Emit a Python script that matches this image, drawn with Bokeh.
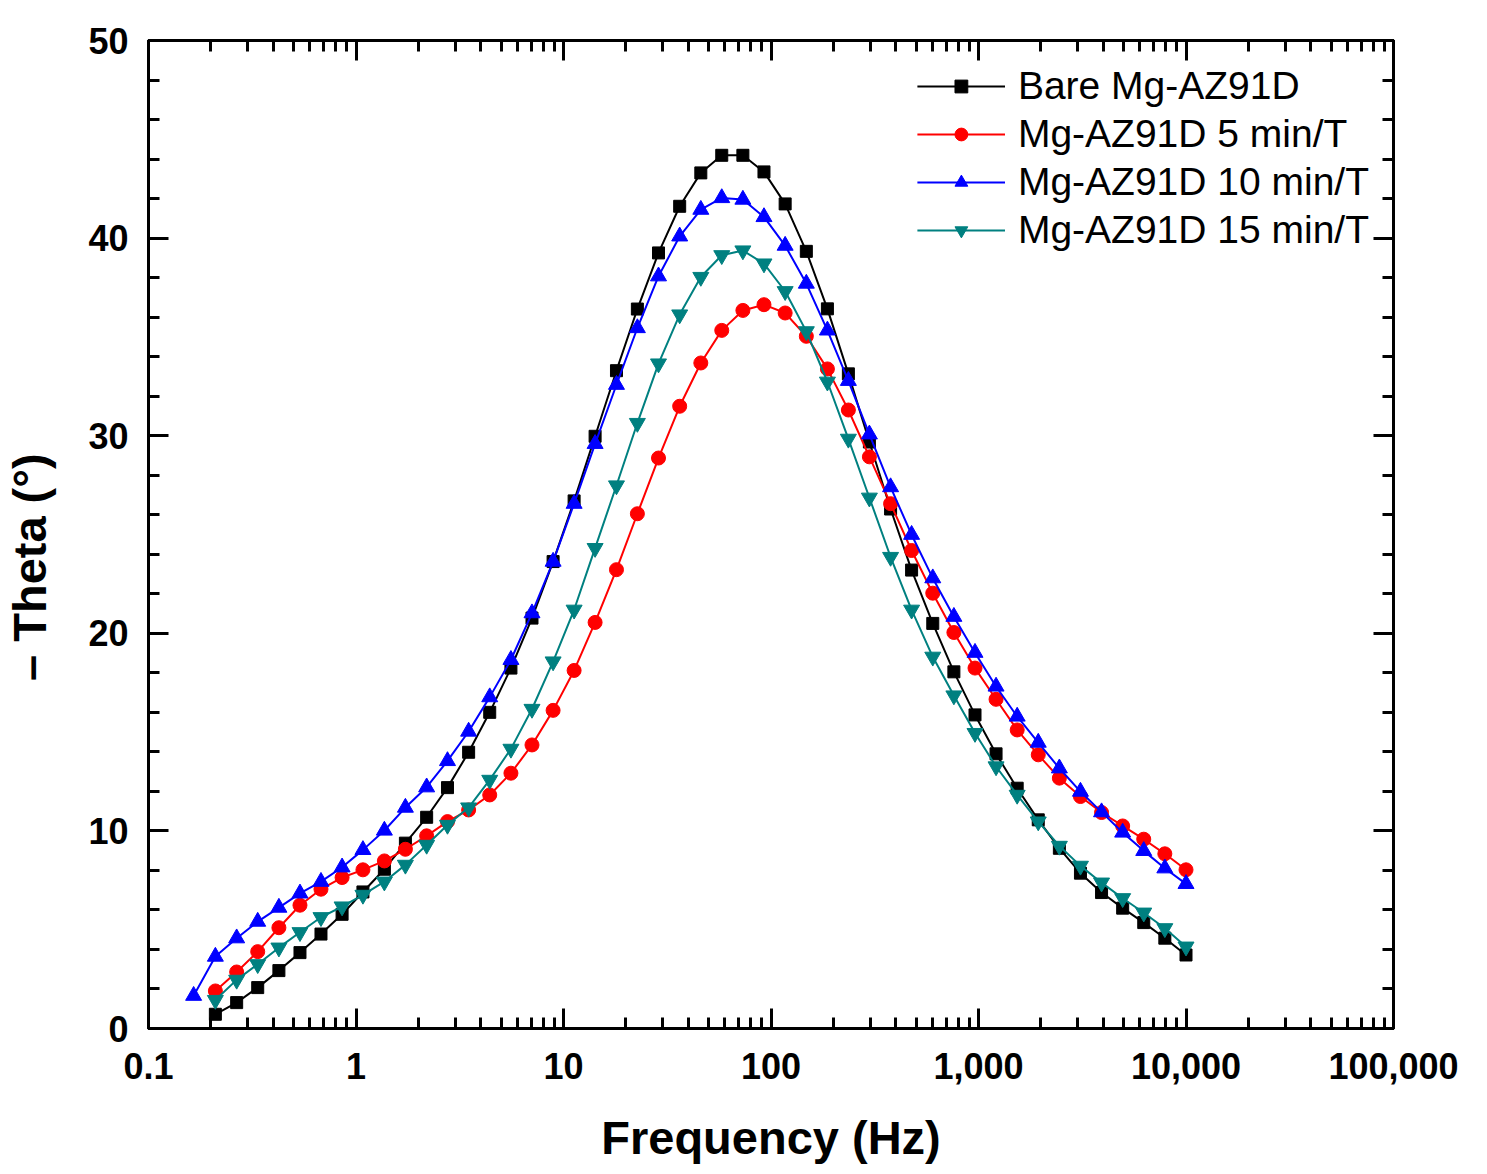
from bokeh.embed import file_html
from bokeh.models import (ColumnDataSource, Legend, LegendItem, LinearAxis, LogAxis,
                          LogTicker, NumeralTickFormatter, Range1d, SingleIntervalTicker)
from bokeh.plotting import figure
from bokeh.resources import INLINE

FONT = "Liberation Sans"

# frequency points (Hz)
freq = [0.210, 0.266, 0.336, 0.425, 0.537, 0.678, 0.857, 1.08, 1.37, 1.73,
        2.19, 2.76, 3.49, 4.41, 5.58, 7.05, 8.91, 11.25, 14.2, 18.0,
        22.7, 28.7, 36.3, 45.9, 57.9, 73.2, 92.5, 117, 148, 187,
        236, 298, 377, 476, 602, 761, 962, 1215, 1536, 1941,
        2453, 3100, 3918, 4952, 6257, 7907, 10000]
freq_10 = [0.165] + freq

# -Theta (deg)
bare = [0.72, 1.31, 2.07, 2.93, 3.84, 4.78, 5.78, 6.91, 8.06, 9.38,
        10.69, 12.19, 13.98, 16.0, 18.24, 20.77, 23.63, 26.7, 29.97, 33.29,
        36.41, 39.25, 41.61, 43.30, 44.19, 44.19, 43.35, 41.73, 39.33, 36.42,
        33.13, 29.68, 26.29, 23.2, 20.5, 18.05, 15.87, 13.90, 12.16, 10.56,
        9.12, 7.86, 6.88, 6.09, 5.36, 4.57, 3.72]
t5 = [1.90, 2.86, 3.89, 5.10, 6.24, 7.05, 7.64, 8.03, 8.48, 9.07,
      9.75, 10.47, 11.06, 11.82, 12.92, 14.35, 16.1, 18.12, 20.55, 23.22,
      26.05, 28.87, 31.49, 33.68, 35.33, 36.34, 36.63, 36.21, 35.03, 33.38,
      31.30, 28.93, 26.56, 24.19, 22.03, 20.04, 18.24, 16.66, 15.11, 13.85,
      12.67, 11.74, 10.93, 10.25, 9.58, 8.84, 8.03]
t10 = [1.66, 3.64, 4.57, 5.41, 6.12, 6.84, 7.43, 8.16, 9.04, 10.02,
       11.18, 12.21, 13.54, 15.03, 16.77, 18.66, 21.02, 23.63, 26.56, 29.59,
       32.58, 35.45, 38.07, 40.09, 41.44, 42.03, 41.95, 41.07, 39.62, 37.70,
       35.33, 32.78, 30.07, 27.40, 24.99, 22.79, 20.84, 19.02, 17.31, 15.79,
       14.47, 13.17, 11.99, 10.95, 9.92, 8.99, 8.11, 7.32]
t15 = [1.44, 2.46, 3.25, 4.09, 4.87, 5.63, 6.17, 6.76, 7.43, 8.28,
       9.29, 10.30, 11.18, 12.58, 14.15, 16.17, 18.57, 21.19, 24.31, 27.48,
       30.64, 33.65, 36.13, 38.03, 39.13, 39.37, 38.71, 37.31, 35.28, 32.73,
       29.84, 26.86, 23.86, 21.19, 18.81, 16.85, 14.95, 13.26, 11.82, 10.47,
       9.24, 8.23, 7.38, 6.59, 5.86, 5.07, 4.14]

series = [
    ("Bare Mg-AZ91D", freq, bare, "#000000", "square", 12),
    ("Mg-AZ91D 5 min/T", freq, t5, "#ff0000", "circle", 14),
    ("Mg-AZ91D 10 min/T", freq_10, t10, "#0000ff", "triangle", 16),
    ("Mg-AZ91D 15 min/T", freq, t15, "#008080", "inverted_triangle", 16),
]

p = figure(x_axis_type="log", x_range=Range1d(0.1, 1e5), y_range=Range1d(0, 50),
           frame_width=1245, frame_height=988,
           min_border_left=148, min_border_top=40, min_border_right=80, min_border_bottom=140,
           output_backend="svg", toolbar_location=None)

p.xgrid.visible = False
p.ygrid.visible = False
p.outline_line_color = "black"
p.outline_line_width = 3


def style_axis(ax, labels=True):
    ax.axis_line_width = 3
    ax.major_tick_in = 20
    ax.major_tick_out = 0
    ax.minor_tick_in = 11
    ax.minor_tick_out = 0
    ax.major_tick_line_width = 3
    ax.minor_tick_line_width = 3
    ax.major_label_text_font = FONT
    ax.major_label_text_font_style = "bold"
    ax.major_label_text_color = "black"
    ax.axis_label_text_font = FONT
    ax.axis_label_text_font_style = "bold"
    ax.axis_label_text_font_size = "47px"
    ax.axis_label_text_color = "black"
    if labels:
        ax.major_label_text_font_size = "36px"
    else:
        ax.major_label_text_font_size = "1px"
        ax.major_label_text_alpha = 0
        ax.major_label_standoff = 0


xa = p.xaxis[0]
xa.ticker = LogTicker(num_minor_ticks=10)
xa.formatter = NumeralTickFormatter(format="0,0.[0]")
style_axis(xa)
xa.major_label_standoff = 24
xa.axis_label = "Frequency (Hz)"
xa.axis_label_standoff = 29

ya = p.yaxis[0]
ya.ticker = SingleIntervalTicker(interval=10, num_minor_ticks=5)
style_axis(ya)
ya.major_label_standoff = 20
# trailing no-break spaces push the visible title a little below mid-height
ya.axis_label = "– Theta (°)" + "\u00a0" * 5
ya.axis_label_standoff = 29

top = LogAxis(ticker=LogTicker(num_minor_ticks=10))
style_axis(top, labels=False)
p.add_layout(top, "above")

right = LinearAxis(ticker=SingleIntervalTicker(interval=10, num_minor_ticks=5))
style_axis(right, labels=False)
p.add_layout(right, "right")

items = []
for name, xs, ys, color, marker, size in series:
    src = ColumnDataSource(data=dict(x=xs, y=ys))
    ln = p.line("x", "y", source=src, line_color=color, line_width=2)
    sc = p.scatter("x", "y", source=src, marker=marker, size=size,
                   fill_color=color, line_color=color)
    items.append(LegendItem(label=name, renderers=[ln, sc]))

legend = Legend(items=items, location="top_right")
legend.label_text_font = FONT
legend.label_text_font_size = "39px"
legend.label_text_color = "black"
legend.glyph_width = 88
legend.glyph_height = 32
legend.label_standoff = 13
legend.spacing = 4
legend.padding = 0
legend.margin = 24
legend.border_line_color = None
legend.background_fill_alpha = 0
p.add_layout(legend, "center")

open("out.html", "w").write(file_html(p, INLINE))
